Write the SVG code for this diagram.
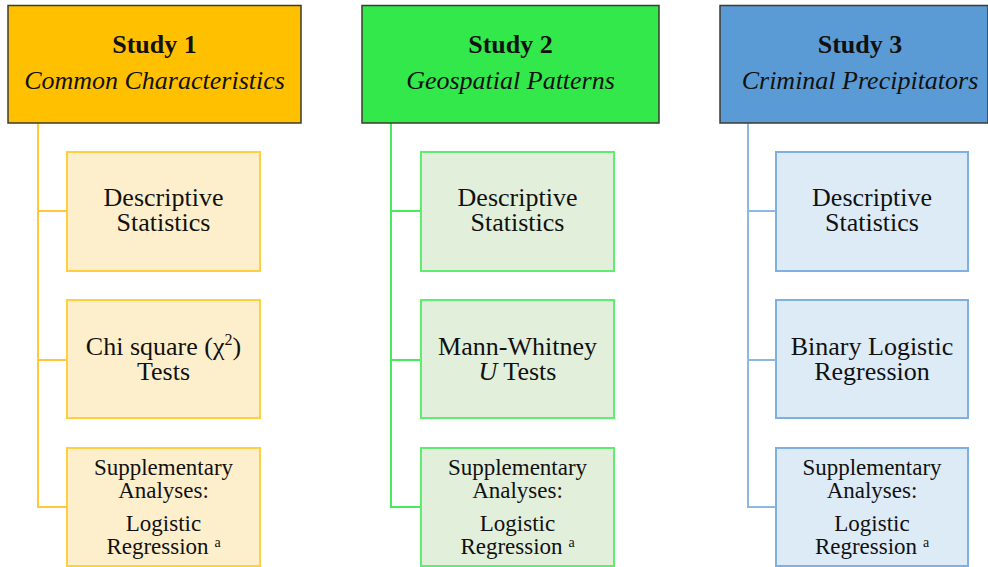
<svg xmlns="http://www.w3.org/2000/svg" width="988" height="567" viewBox="0 0 988 567">
<style>
text{font-family:"Liberation Serif","Times New Roman",serif;fill:#111;text-anchor:middle}
.h{stroke:#3d3a30;stroke-width:1.5}
.t1{font-size:26px;font-weight:bold}
.t2{font-size:26px;font-style:italic}
.b{font-size:26px}
.s{font-size:23px}
.sup{font-size:14px}
.sup2{font-size:16px}
.c1{stroke:#FFC83A;stroke-width:2;fill:none}
.c2{stroke:#45EB5A;stroke-width:2;fill:none}
.c3{stroke:#8DB8E4;stroke-width:2;fill:none}
.f1{fill:#FEEFCC;stroke:#FFCF3F;stroke-width:2}
.f2{fill:#E2EFDA;stroke:#5EED70;stroke-width:2}
.f3{fill:#DDEBF7;stroke:#7EB0E2;stroke-width:2}
</style>
<rect width="988" height="567" fill="#fff"/>
<g id="connectors">
<path class="c1" d="M38 123V507H67M38 211H67M38 360H67"/>
<path class="c2" d="M391 123V507H421M391 211H421M391 360H421"/>
<path class="c3" d="M748 123V507H776M748 211H776M748 360H776"/>
</g>
<g id="study1">
<rect class="h" x="8" y="5.5" width="293" height="117.5" fill="#FFC000"/>
<text class="t1" x="154.5" y="53">Study 1</text>
<text class="t2" x="154.5" y="89">Common Characteristics</text>
</g>
<g id="study2">
<rect class="h" x="362" y="5.5" width="297" height="117.5" fill="#33E84B"/>
<text class="t1" x="510.5" y="53">Study 2</text>
<text class="t2" x="510.5" y="89">Geospatial Patterns</text>
</g>
<g id="study3">
<rect class="h" x="720" y="5.5" width="268" height="117.5" fill="#5B9BD5"/>
<text class="t1" x="860" y="53">Study 3</text>
<text class="t2" x="860" y="89">Criminal Precipitators</text>
</g>
<g id="s1-desc">
<rect class="f1" x="67" y="152" width="193" height="119"/>
<text class="b" x="163.5" y="206">Descriptive</text>
<text class="b" x="163.5" y="231">Statistics</text>
</g>
<g id="s1-chi">
<rect class="f1" x="67" y="300" width="193" height="118"/>
<text class="b" x="163.5" y="355">Chi square (χ<tspan class="sup2" dy="-10">2</tspan><tspan dy="10">)</tspan></text>
<text class="b" x="163.5" y="380">Tests</text>
</g>
<g id="s1-supp">
<rect class="f1" x="67" y="448" width="193" height="118"/>
<text class="s" x="163.5" y="475">Supplementary</text>
<text class="s" x="163.5" y="498">Analyses:</text>
<text class="s" x="163.5" y="531">Logistic</text>
<text class="s" x="163.5" y="554">Regression <tspan class="sup" dy="-7">a</tspan></text>
</g>
<g id="s2-desc">
<rect class="f2" x="421" y="152" width="193" height="119"/>
<text class="b" x="517.5" y="206">Descriptive</text>
<text class="b" x="517.5" y="231">Statistics</text>
</g>
<g id="s2-mw">
<rect class="f2" x="421" y="300" width="193" height="118"/>
<text class="b" x="517.5" y="355">Mann-Whitney</text>
<text class="b" x="517.5" y="380"><tspan font-style="italic">U</tspan> Tests</text>
</g>
<g id="s2-supp">
<rect class="f2" x="421" y="448" width="193" height="118"/>
<text class="s" x="517.5" y="475">Supplementary</text>
<text class="s" x="517.5" y="498">Analyses:</text>
<text class="s" x="517.5" y="531">Logistic</text>
<text class="s" x="517.5" y="554">Regression <tspan class="sup" dy="-7">a</tspan></text>
</g>
<g id="s3-desc">
<rect class="f3" x="776" y="152" width="192" height="119"/>
<text class="b" x="872" y="206">Descriptive</text>
<text class="b" x="872" y="231">Statistics</text>
</g>
<g id="s3-blr">
<rect class="f3" x="776" y="300" width="192" height="118"/>
<text class="b" x="872" y="355">Binary Logistic</text>
<text class="b" x="872" y="380">Regression</text>
</g>
<g id="s3-supp">
<rect class="f3" x="776" y="448" width="192" height="118"/>
<text class="s" x="872" y="475">Supplementary</text>
<text class="s" x="872" y="498">Analyses:</text>
<text class="s" x="872" y="531">Logistic</text>
<text class="s" x="872" y="554">Regression <tspan class="sup" dy="-7">a</tspan></text>
</g>
</svg>
